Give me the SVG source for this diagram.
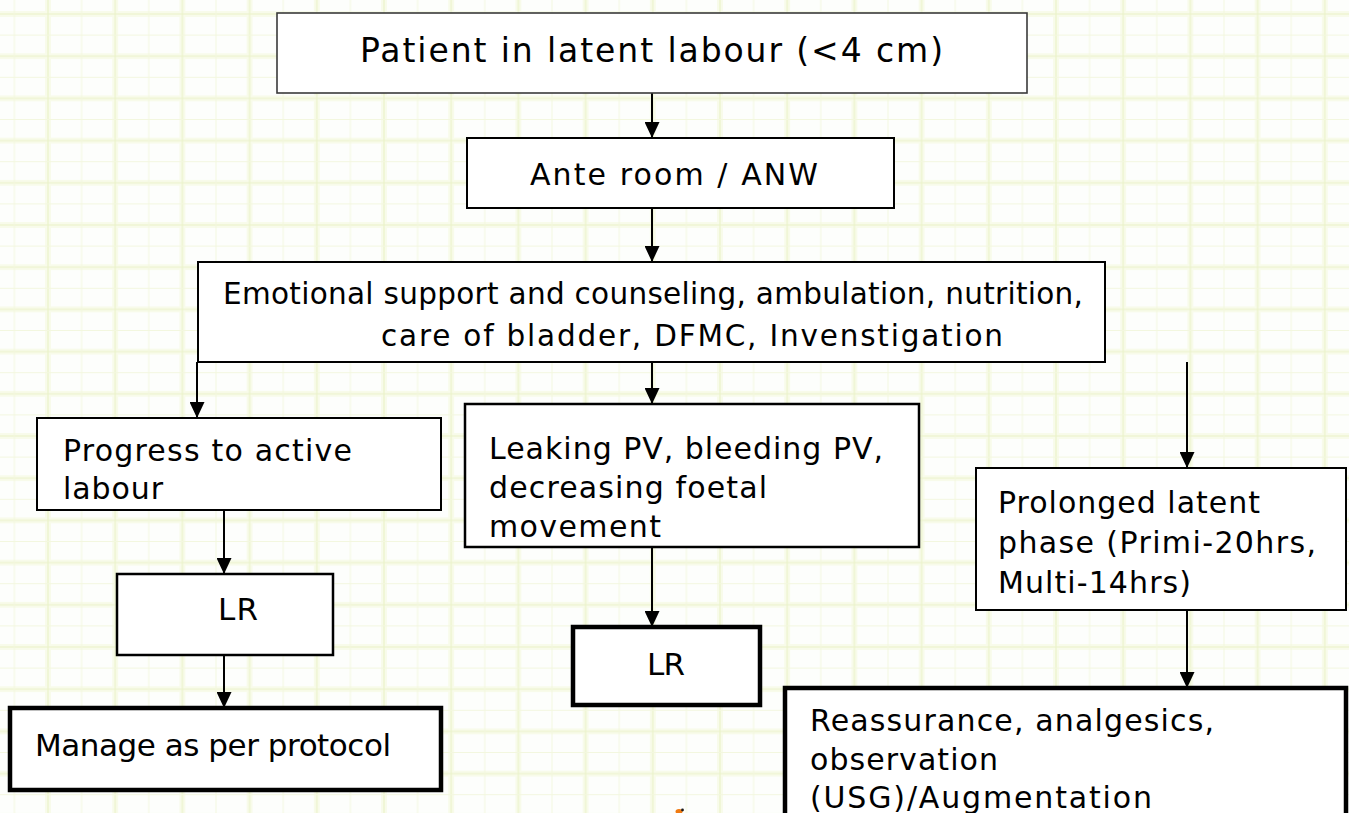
<svg xmlns="http://www.w3.org/2000/svg" width="1349" height="813" viewBox="0 0 1349 813">
  <defs>
    <style>
      .box { fill: #ffffff; stroke: #000000; stroke-width: 2; }
      .thin { stroke: #3a3a3a; stroke-width: 1.6; }
      .thick { stroke-width: 4.5; }
      .lbl { font-family: "DejaVu Sans", Verdana, sans-serif; fill: #000000; }
      .conn { stroke: #000000; stroke-width: 2; fill: none; marker-end: url(#arrow); }
      .band { stroke: #f8fbea; stroke-width: 6; }
      .rule { stroke: #ebf2c9; stroke-width: 1.1; }
      .rule2 { stroke: #f3f7df; stroke-width: 1; }
    </style>
    <marker id="arrow" viewBox="0 0 16 15" refX="16" refY="7.5" markerWidth="16" markerHeight="15" markerUnits="userSpaceOnUse" orient="auto">
      <polygon points="0,0 16,7.5 0,15" fill="#000000"/>
    </marker>
    <!-- pale graph-paper background -->
    <pattern id="paper" x="48" y="14" width="67.2" height="42.2" patternUnits="userSpaceOnUse">
      <line class="band" x1="0" y1="0" x2="0" y2="42.2"/>
      <line class="band" x1="67.2" y1="0" x2="67.2" y2="42.2"/>
      <line class="band" x1="0" y1="0" x2="67.2" y2="0"/>
      <line class="band" x1="0" y1="42.2" x2="67.2" y2="42.2"/>
      <line class="rule" x1="0" y1="0" x2="0" y2="42.2"/>
      <line class="rule" x1="67.2" y1="0" x2="67.2" y2="42.2"/>
      <line class="rule" x1="0" y1="0" x2="67.2" y2="0"/>
      <line class="rule" x1="0" y1="42.2" x2="67.2" y2="42.2"/>
      <line class="rule2" x1="33.6" y1="0" x2="33.6" y2="42.2"/>
      <line class="rule2" x1="0" y1="21.1" x2="67.2" y2="21.1"/>
    </pattern>
  </defs>

  <rect x="0" y="0" width="1349" height="813" fill="#fdfefc"/>
  <rect x="0" y="0" width="1349" height="813" fill="url(#paper)"/>

  <g id="connectors">
    <line class="conn" x1="652" y1="93" x2="652" y2="138"/>
    <line class="conn" x1="652" y1="208" x2="652" y2="262"/>
    <line class="conn" x1="197" y1="362" x2="197" y2="418"/>
    <line class="conn" x1="652" y1="362" x2="652" y2="404"/>
    <line class="conn" x1="1187" y1="362" x2="1187" y2="468"/>
    <line class="conn" x1="224" y1="510" x2="224" y2="574"/>
    <line class="conn" x1="224" y1="655" x2="224" y2="708"/>
    <line class="conn" x1="652" y1="547" x2="652" y2="627"/>
    <line class="conn" x1="1187" y1="610" x2="1187" y2="688"/>
  </g>

  <g id="latent-labour">
    <rect class="box thin" x="277" y="13" width="750" height="80"/>
    <text class="lbl" x="360" y="62" font-size="33" textLength="583" lengthAdjust="spacing">Patient in latent labour (&lt;4 cm)</text>
  </g>

  <g id="ante-room">
    <rect class="box" x="467" y="138" width="427" height="70"/>
    <text class="lbl" x="530" y="185" font-size="30" textLength="288" lengthAdjust="spacing">Ante room / ANW</text>
  </g>

  <g id="supportive-care">
    <rect class="box" x="198" y="262" width="907" height="100"/>
    <text class="lbl" x="223" y="304" font-size="29.5" textLength="860" lengthAdjust="spacing">Emotional support and counseling, ambulation, nutrition,</text>
    <text class="lbl" x="381" y="346" font-size="29.5" textLength="622" lengthAdjust="spacing">care of bladder, DFMC, Invenstigation</text>
  </g>

  <g id="active-labour">
    <rect class="box" x="37" y="418" width="404" height="92"/>
    <text class="lbl" x="63" y="461" font-size="30" textLength="289" lengthAdjust="spacing">Progress to active</text>
    <text class="lbl" x="63" y="499" font-size="30" textLength="100" lengthAdjust="spacing">labour</text>
  </g>

  <g id="lr-active">
    <rect class="box" x="117" y="574" width="216" height="81" style="stroke-width:2.5"/>
    <text class="lbl" x="218" y="620" font-size="31" textLength="40" lengthAdjust="spacing">LR</text>
  </g>

  <g id="manage-protocol">
    <rect class="box thick" x="10" y="708" width="431" height="82"/>
    <text class="lbl" x="35" y="756" font-size="31" textLength="356" lengthAdjust="spacing">Manage as per protocol</text>
  </g>

  <g id="warning-signs">
    <rect class="box" x="465" y="404" width="454" height="143" style="stroke-width:2.5"/>
    <text class="lbl" x="489" y="459" font-size="30" textLength="394" lengthAdjust="spacing">Leaking PV, bleeding PV,</text>
    <text class="lbl" x="489" y="498" font-size="30" textLength="278" lengthAdjust="spacing">decreasing foetal</text>
    <text class="lbl" x="489" y="537" font-size="30" textLength="172" lengthAdjust="spacing">movement</text>
  </g>

  <g id="lr-warning">
    <rect class="box thick" x="573" y="627" width="187" height="78"/>
    <text class="lbl" x="647" y="675" font-size="31" textLength="38" lengthAdjust="spacing">LR</text>
  </g>

  <g id="prolonged-latent">
    <rect class="box" x="976" y="468" width="370" height="142"/>
    <text class="lbl" x="998" y="513" font-size="30" textLength="262" lengthAdjust="spacing">Prolonged latent</text>
    <text class="lbl" x="998" y="553" font-size="30" textLength="318" lengthAdjust="spacing">phase (Primi-20hrs,</text>
    <text class="lbl" x="998" y="593" font-size="30" textLength="193" lengthAdjust="spacing">Multi-14hrs)</text>
  </g>

  <g id="reassurance">
    <rect class="box thick" x="785" y="688" width="561" height="140"/>
    <text class="lbl" x="810" y="731" font-size="30" textLength="404" lengthAdjust="spacing">Reassurance, analgesics,</text>
    <text class="lbl" x="810" y="770" font-size="30" textLength="188" lengthAdjust="spacing">observation</text>
    <text class="lbl" x="810" y="808" font-size="30" textLength="342" lengthAdjust="spacing">(USG)/Augmentation</text>
  </g>

  <!-- small clip-art fragment at the lower edge -->
  <g id="fragment">
    <ellipse cx="679" cy="811.5" rx="3.5" ry="2.5" fill="#f07a12"/>
    <circle cx="682.5" cy="810" r="1.4" fill="#1a1a1a"/>
  </g>
</svg>
